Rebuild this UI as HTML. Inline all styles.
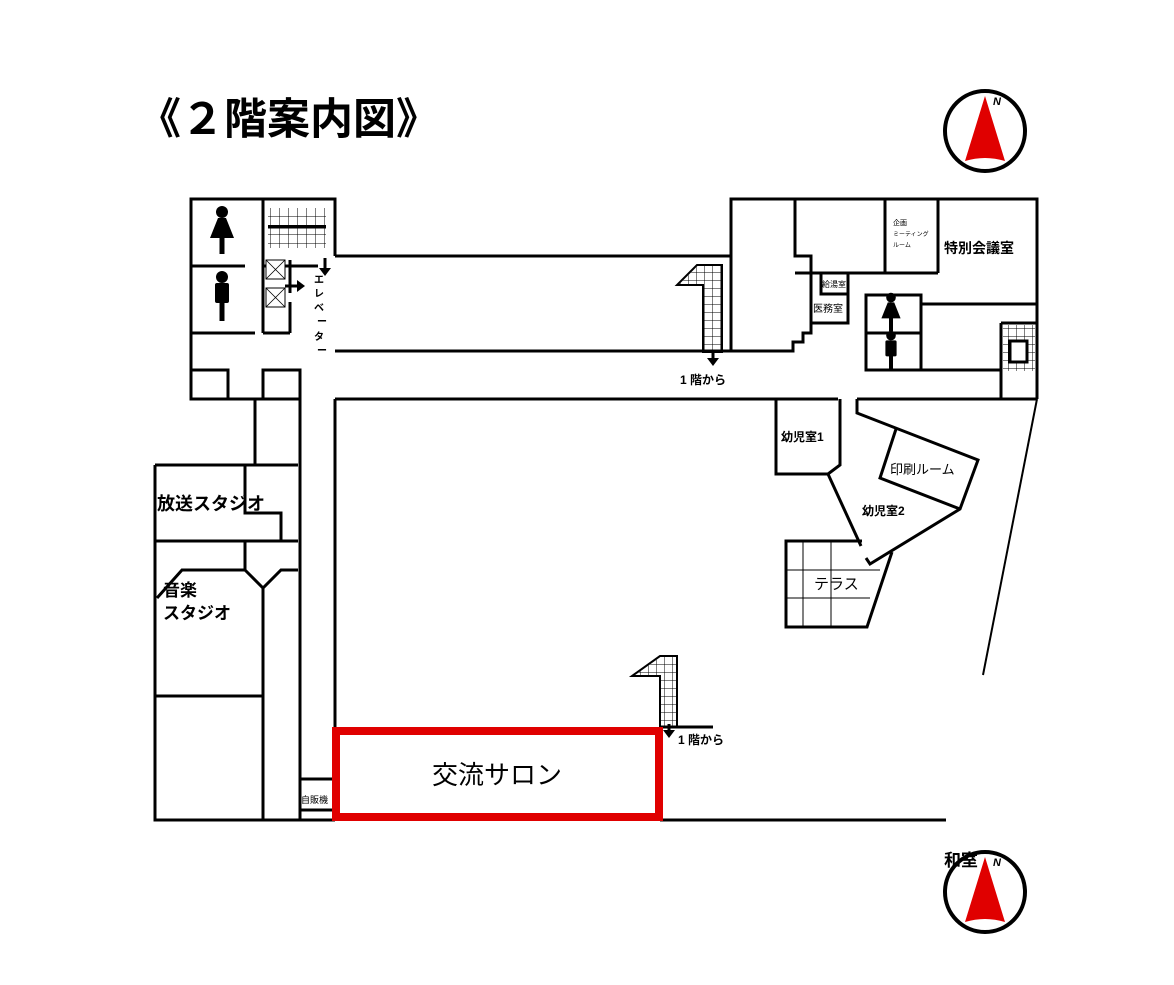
<!DOCTYPE html>
<html><head><meta charset="utf-8"><style>
body{margin:0;background:#fff;}
svg{display:block;font-family:"Liberation Sans","Noto Sans CJK JP",sans-serif;}
</style></head><body>
<svg width="1174" height="985" viewBox="0 0 1174 985" xmlns="http://www.w3.org/2000/svg">
<defs>
<pattern id="g" width="8" height="8" patternUnits="userSpaceOnUse"><path d="M0 0H8M0 0V8" stroke="#000" stroke-width="1" fill="none"/></pattern>
<pattern id="g2" width="9" height="9" patternUnits="userSpaceOnUse"><path d="M0 0H9M0 0V9" stroke="#000" stroke-width="1" fill="none"/></pattern>
<g id="comp"><circle r="40" fill="#fff" stroke="#000" stroke-width="4"/><path d="M0 -35 L-20 30 Q0 24 20 30 Z" fill="#e00000"/><text x="8" y="-26" font-size="11" font-weight="bold" font-style="italic">N</text></g>
<g id="fem"><circle cx="0" cy="-18" r="6"/><path d="M-4 -12 H4 L12 8 H-12 Z"/><rect x="-2.5" y="4" width="5" height="20"/></g>
<g id="mal"><circle cx="0" cy="-18" r="6"/><rect x="-7" y="-12" width="14" height="20" rx="2"/><rect x="-2.5" y="4" width="5" height="22"/></g>
</defs>
<text x="138" y="134" font-size="43" font-weight="bold">《２階案内図》</text>
<use href="#comp" x="985" y="131"/>
<use href="#comp" x="985" y="892"/>
<text x="944" y="866" font-size="17" font-weight="bold">和室</text>

<g fill="none" stroke="#000" stroke-width="3">
<path d="M335 256 V199 H191 V399 H300"/>
<path d="M263 199 V333 M191 266 H245 M191 333 H255 M263 266 H318 M263 333 H290 M290 260 V280 M290 302 V333"/>
<path d="M191 370 H228 V399 M263 399 V370 H300 V399"/>
<path d="M255 399 V465 M300 399 V820 M335 399 V730"/>
<path d="M335 256 H731 M335 351 H731"/>
<path d="M155 465 H298 M155 465 V820 H335 M245 465 V513 H281 V541 M155 541 H298"/>
<path d="M245 541 V570 H182 L157 598 M245 570 L263 588 L281 570 H298 M263 588 V820 M155 696 H263"/>
<path d="M300 779 H332 M300 810 H332"/>
<path d="M660 820 H946"/>
<path d="M731 351 V199 H1037 V399 M731 351 H793 V342 H803 V333 H811 V256 H795 V199"/>
<path d="M795 273 H938 M885 199 V273 M938 199 V273 M821 273 V294 H848 M848 273 V323 H812"/>
<path d="M866 295 H921 V370 H866 Z M866 333 H921 M921 304 H1037 M921 370 H1001"/>
<path d="M1001 323 H1037 M1001 323 V399"/>
<path d="M335 399 H838 M857 399 H1037"/>
<path d="M776 399 V474 H828 L840 465 V399"/>
<path d="M857 399 V413 L978 460 L960 509 L870 564 L866 558"/>
<path d="M896 429 L880 478 L960 509"/>
<path d="M828 474 L861 546"/>
<path d="M862 541 H786 V627 H867 L892 552"/>
</g>
<path d="M803 541 V627 M831 541 V627 M786 570 H880 M786 598 H870" stroke="#000" stroke-width="1"/>
<path d="M1037 399 L983 675" stroke="#000" stroke-width="2"/>
<rect x="1003" y="325" width="32" height="46" fill="url(#g)"/>
<rect x="1010" y="341" width="17" height="21" fill="#fff" stroke="#000" stroke-width="3"/>
<rect x="268" y="208" width="58" height="40" fill="url(#g2)"/>
<path d="M268 227 H326" stroke="#000" stroke-width="3"/>
<rect x="266" y="260" width="19" height="19" fill="#fff" stroke="#000"/><path d="M266 260 L285 279 M285 260 L266 279" stroke="#000" stroke-width="0.8"/>
<rect x="266" y="288" width="19" height="19" fill="#fff" stroke="#000"/><path d="M266 288 L285 307 M285 288 L266 307" stroke="#000" stroke-width="0.8"/>
<path d="M325 258 V270" stroke="#000" stroke-width="3"/><path d="M319 268 L325 276 L331 268 Z"/>
<path d="M285 286 H298 M290 280 V293" stroke="#000" stroke-width="3"/><path d="M297 280 L305 286 L297 292 Z"/>
<text font-size="10" font-weight="bold" x="314" y="283">エ</text>
<text font-size="10" font-weight="bold" x="314" y="297">レ</text>
<text font-size="10" font-weight="bold" x="314" y="311">ベ</text>
<text font-size="10" font-weight="bold" x="317" y="325">ー</text>
<text font-size="10" font-weight="bold" x="314" y="340">タ</text>
<text font-size="10" font-weight="bold" x="317" y="354">ー</text>
<use href="#fem" x="222" y="230"/>
<use href="#mal" x="222" y="295"/>
<use href="#fem" x="891" y="312" transform="translate(891 312) scale(0.8) translate(-891 -312)"/>
<use href="#mal" x="891" y="350" transform="translate(891 350) scale(0.8) translate(-891 -350)"/>
<path d="M697 265 H722 V352 H703 V285 H677 Z" fill="url(#g)" stroke="#000" stroke-width="2"/>
<path d="M713 352 V360" stroke="#000" stroke-width="3"/><path d="M707 358 L713 366 L719 358 Z"/>
<text x="680" y="384" font-size="12" font-weight="bold">1 階から</text>
<path d="M660 656 H677 V727 H660 V676 H632 Z" fill="url(#g)" stroke="#000" stroke-width="2"/>
<path d="M660 727 H713" stroke="#000" stroke-width="3"/>
<path d="M669 724 V732" stroke="#000" stroke-width="3"/><path d="M663 730 L669 738 L675 730 Z"/>
<text x="678" y="744" font-size="12" font-weight="bold">1 階から</text>
<rect x="336" y="731" width="323" height="86" fill="none" stroke="#e00000" stroke-width="8"/>
<text x="432" y="784" font-size="26">交流サロン</text>
<text x="301" y="803" font-size="9">自販機</text>
<text x="157" y="510" font-size="18" font-weight="bold">放送スタジオ</text>
<text x="163" y="596" font-size="17" font-weight="bold">音楽</text>
<text x="163" y="619" font-size="17" font-weight="bold">スタジオ</text>
<text x="944" y="253" font-size="14" font-weight="bold">特別会議室</text>
<text x="893" y="225" font-size="7">企画</text>
<text x="893" y="236" font-size="6">ミーティング</text>
<text x="893" y="247" font-size="6">ルーム</text>
<text x="822" y="287" font-size="8">給湯室</text>
<text x="813" y="312" font-size="10">医務室</text>
<text x="781" y="441" font-size="12" font-weight="bold">幼児室1</text>
<text x="890" y="474" font-size="13">印刷ルーム</text>
<text x="862" y="515" font-size="12" font-weight="bold">幼児室2</text>
<text x="814" y="589" font-size="15">テラス</text>
</svg>
</body></html>
